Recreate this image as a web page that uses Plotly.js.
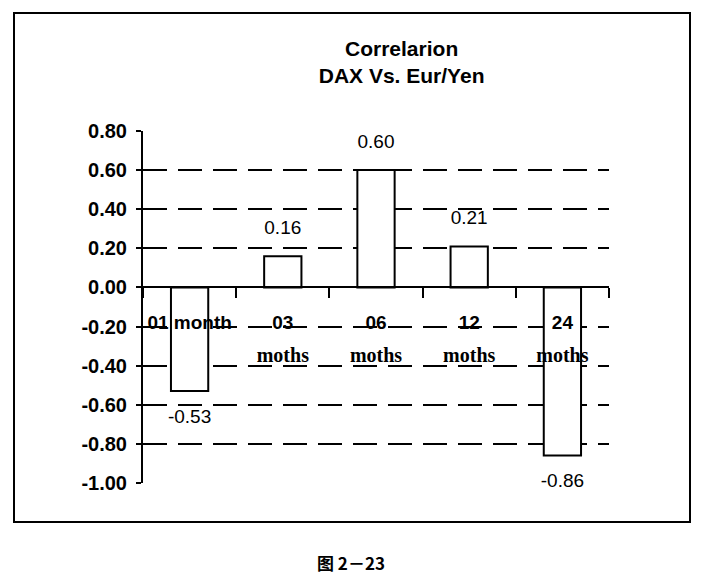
<!DOCTYPE html>
<html>
<head>
<meta charset="utf-8">
<script src="https://cdn.plot.ly/plotly-3.0.1.min.js"></script>
<style>
html,body{margin:0;padding:0;background:#fff;}
#chart{width:705px;height:579px;}
</style>
</head>
<body>
<div id="chart"></div>
<script>
const categories = ["01 month", "03 moths", "06 moths", "12 moths", "24 moths"];
const values = [-0.53, 0.16, 0.60, 0.21, -0.86];
const labelLine1 = ["01 month", "03", "06", "12", "24"];
const labelLine2 = ["", "moths", "moths", "moths", "moths"];
const valueLabels = ["-0.53", "0.16", "0.60", "0.21", "-0.86"];
const yTicks = [0.8, 0.6, 0.4, 0.2, 0, -0.2, -0.4, -0.6, -0.8, -1.0];
const gridVals = [0.6, 0.4, 0.2, -0.2, -0.4, -0.6, -0.8];
const titleLines = ["Correlarion", "DAX Vs. Eur/Yen"];
const caption = "图 2－23";

const narrow = "Liberation Sans Narrow, Arial Narrow, Liberation Sans, Arial, sans-serif";
const serif = "Liberation Serif, Times New Roman, serif";

const idx = categories.map((c, i) => i);
const zeroPos = (0 - (-1.0)) / (0.8 - (-1.0));

const bars = {
  type: "bar",
  x: idx,
  y: values,
  marker: {color: "#fff", line: {color: "#000", width: 2}},
  width: 0.4,
  hoverinfo: "skip"
};

const labels = {
  type: "scatter",
  mode: "markers+text",
  x: idx,
  y: values,
  text: valueLabels,
  textposition: values.map(v => v >= 0 ? "top center" : "bottom center"),
  textfont: {family: narrow, size: 19, color: "#000"},
  marker: {size: 26, opacity: 0},
  cliponaxis: false,
  hoverinfo: "skip"
};

const layout = {
  width: 705, height: 579,
  margin: {l: 143, r: 96, t: 131, b: 96},
  paper_bgcolor: "#fff", plot_bgcolor: "rgba(0,0,0,0)",
  showlegend: false,
  title: {
    text: titleLines.join("<br>"),
    font: {family: narrow, size: 21, color: "#000", weight: "bold"},
    x: 0.555, xref: "paper", xanchor: "center",
    y: 1 - 56 / 579, yref: "container", yanchor: "middle"
  },
  xaxis: {
    range: [-0.5, 4.5],
    tickmode: "array", tickvals: [-0.5, 0.5, 1.5, 2.5, 3.5, 4.5], ticktext: ["", "", "", "", "", ""],
    ticks: "outside", ticklen: 10, tickwidth: 2, tickcolor: "#000",
    showline: true, linecolor: "#000", linewidth: 2,
    showgrid: false, zeroline: false,
    anchor: "free", position: zeroPos,
    fixedrange: true
  },
  xaxis2: {
    range: [-0.5, 4.5], overlaying: "x",
    tickmode: "array", tickvals: idx, ticktext: labelLine1,
    ticks: "", showline: false, showgrid: false, zeroline: false,
    anchor: "free", position: zeroPos, side: "bottom",
    ticklabelstandoff: 22,
    tickfont: {family: narrow, size: 19, color: "#000", weight: "bold"}
  },
  xaxis3: {
    range: [-0.5, 4.5], overlaying: "x",
    tickmode: "array", tickvals: idx, ticktext: labelLine2,
    ticks: "", showline: false, showgrid: false, zeroline: false,
    anchor: "free", position: zeroPos, side: "bottom",
    ticklabelstandoff: 54,
    tickfont: {family: serif, size: 20, color: "#000", weight: "bold"}
  },
  yaxis: {
    range: [-1.0, 0.8],
    tickmode: "array", tickvals: yTicks,
    ticktext: yTicks.map(v => v.toFixed(2)),
    ticks: "outside", ticklen: 5, tickwidth: 2, tickcolor: "#000",
    showline: true, linecolor: "#000", linewidth: 2,
    showgrid: false, zeroline: false,
    ticklabelstandoff: 5,
    tickfont: {family: narrow, size: 20, color: "#000", weight: "bold"},
    fixedrange: true
  },
  yaxis2: {
    range: [-1.0, 0.8], overlaying: "y", side: "left",
    tickmode: "array", tickvals: gridVals,
    showticklabels: false, ticks: "",
    showgrid: true, gridcolor: "#000", gridwidth: 2, griddash: "24px,11px",
    zeroline: false, showline: false
  },
  shapes: [
    {type: "rect", xref: "paper", yref: "paper",
     x0: (14 - 143) / 466, x1: (690 - 143) / 466,
     y0: (483 - 522) / 352, y1: (483 - 13) / 352,
     line: {color: "#000", width: 2}, fillcolor: "rgba(0,0,0,0)", layer: "below"}
  ],
  annotations: [
    {text: caption, xref: "paper", yref: "paper",
     x: (351 - 143) / 466, y: (483 - 562) / 352, xanchor: "center", yanchor: "middle",
     showarrow: false,
     font: {family: "Noto Sans CJK SC, sans-serif", size: 17, color: "#000", weight: "bold"}}
  ]
};

const gridTrace = {type: "scatter", x: [], y: [], xaxis: "x", yaxis: "y2", hoverinfo: "skip"};
const t2 = {type: "scatter", x: [], y: [], xaxis: "x2", yaxis: "y", hoverinfo: "skip"};
const t3 = {type: "scatter", x: [], y: [], xaxis: "x3", yaxis: "y", hoverinfo: "skip"};

Plotly.newPlot("chart", [gridTrace, bars, labels, t2, t3], layout, {displayModeBar: false, staticPlot: true});
</script>
</body>
</html>
